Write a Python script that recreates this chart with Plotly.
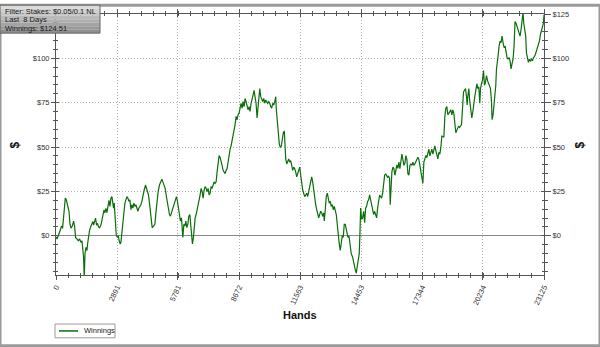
import plotly.graph_objects as go

# ---------------- data ----------------
hands_a = [0, 47, 109, 204, 265, 312, 360, 393, 440, 488, 521, 549, 615, 663, 710, 771, 833, 880, 928, 994]
win_a = [-0.5, -1.8, 0, 2.8, 5.5, 4.2, 10, 17.5, 21.2, 20.3, 18.4, 17.5, 13.8, 6.5, 4.3, 5.5, 8.3, 5.5, -0.9, -1.8]

hands_b = [1055, 1117, 1183, 1231, 1278, 1306, 1339, 1373, 1420, 1467, 1496, 1543, 1590, 1657, 1704, 1751, 1780, 1827, 1874, 1922]
win_b = [-2.8, -1.8, -3.7, -2.8, -8.3, -12, -24, -10.1, -6.5, -8.3, -4.6, -0.9, 3.1, 5.5, 6.5, 8, 6, 9, 10, 6]

hands_c = [1969, 2016, 2064, 2130, 2177, 2225, 2272, 2319, 2367, 2414, 2461, 2508, 2556, 2603, 2650, 2698, 2726, 2759, 2807, 2854]
win_c = [7, 5, 4.5, 6, 8.5, 11, 14.5, 13, 15.5, 13, 17.5, 20, 16.5, 21.2, 22.1, 18.4, 15.6, 18.4, 6.5, 0.6]

hands_d = [2901, 2949, 2996, 3043, 3076, 3124, 3171, 3218, 3266, 3313, 3360, 3408, 3455, 3502, 3550, 3597, 3644, 3692, 3739, 3786]
win_d = [-0.9, 0, -2.8, -4.6, -3.7, 0.9, 6.5, 12.9, 18.4, 21.2, 22.1, 21.2, 19.4, 20.3, 14.7, 17.5, 15.6, 18.4, 16.6, 17.5]

hands_e = [3834, 3881, 3928, 3976, 4023, 4070, 4118, 4179, 4241, 4288, 4335, 4383, 4430, 4463, 4510, 4558, 4619, 4686, 4733, 4780]
win_e = [15.6, 13.8, 15.6, 16.6, 17.5, 19.4, 23, 25.8, 28.6, 26.7, 24.9, 23, 18.4, 14.7, 6.5, 4.6, 5.5, 6.5, 12.9, 19.4]

hands_f = [4842, 4903, 4970, 5017, 5064, 5126, 5173, 5220, 5282, 5329, 5377, 5424, 5471, 5519, 5566, 5613, 5661, 5708, 5755, 5803]
win_f = [24.9, 28.6, 30.4, 31.9, 30.4, 28.6, 26.7, 23, 17.5, 14.7, 12, 11.1, 12.9, 15.6, 17.5, 19.4, 21.2, 22.1, 19.4, 16.6]

hands_g = [5850, 5897, 5945, 5978, 6011, 6058, 6106, 6153, 6200, 6248, 6295, 6342, 6371, 6418, 6465, 6513, 6546, 6593, 6640, 6688]
win_g = [12, 8.3, 10.1, 4.6, -0.9, 6.5, 5.5, 8.3, 4.6, 6.5, 11.1, 12, 7.4, 0.9, -4.6, -0.9, 6.5, 10.1, 12, 15.6]

hands_h = [6735, 6782, 6830, 6877, 6924, 6972, 7019, 7066, 7114, 7161, 7208, 7256, 7303, 7350, 7398, 7445, 7492, 7540, 7587, 7634]
win_h = [17.5, 20.3, 23, 26.7, 24.9, 21.2, 25.8, 27.7, 26.7, 24.9, 26.7, 23, 24, 27.7, 26.7, 29.5, 30.4, 29.5, 30.4, 36]

hands_i = [7682, 7729, 7776, 7824, 7871, 7918, 7966, 8013, 8060, 8108, 8155, 8202, 8250, 8297, 8344, 8392, 8439, 8486, 8534, 8581]
win_i = [41.5, 45.2, 44.2, 42.4, 39.7, 36.9, 35.6, 35, 36.9, 37.8, 41.5, 46, 48.8, 50.7, 53.5, 56.2, 59, 62.7, 67.3, 65.4]

hands_j = [8628, 8676, 8723, 8770, 8818, 8865, 8912, 8960, 9007, 9054, 9102, 9149, 9196, 9244, 9291, 9338, 9386, 9433, 9480, 9528]
win_j = [68.2, 69.1, 71.9, 74.7, 71.9, 75.6, 72.8, 77.4, 75.6, 73.7, 71, 72.8, 70.1, 74.7, 76.5, 79.3, 82, 77.4, 74.7, 66.4]

hands_k = [9561, 9608, 9655, 9703, 9750, 9797, 9845, 9892, 9939, 9987, 10034, 10081, 10129, 10176, 10223, 10271, 10318, 10365, 10413, 10441]
win_k = [70.1, 78.4, 83, 78.4, 76.5, 75.6, 77.4, 74.7, 76.5, 75.6, 74.7, 75.6, 74.7, 72.8, 71.9, 74.7, 73.7, 75.6, 78.4, 71]

hands_l = [10474, 10507, 10536, 10583, 10630, 10678, 10725, 10772, 10820, 10853, 10886, 10933, 10981, 11028, 11075, 11123, 11170, 11217, 11265, 11312, 11359]
win_l = [65.4, 59.9, 55.3, 51.6, 49.8, 50.7, 54.4, 58.1, 59, 49.8, 43.3, 40.5, 42.4, 43.3, 41.5, 42.4, 39.7, 36.9, 38.7, 37.8, 36]

hands_m = [11407, 11454, 11501, 11549, 11596, 11643, 11691, 11738, 11785, 11833, 11880, 11927, 11975, 12022, 12069, 12117, 12164, 12211, 12258, 12306]
win_m = [33.2, 35, 37.8, 38.7, 34.1, 28.6, 25.8, 24, 22.1, 23, 24, 22.1, 24.9, 28.6, 31.4, 33.2, 30.4, 24.9, 20.3, 17.5]

hands_n = [12353, 12400, 12448, 12495, 12542, 12590, 12637, 12684, 12713, 12760, 12807, 12855, 12902, 12949, 12997, 13044, 13091, 13139, 13186, 13233, 13281]
win_n = [14.7, 12.9, 10.1, 12, 13.8, 12.9, 11, 12.9, 8.3, 14.7, 22.1, 24, 21.2, 18.4, 19.4, 16.6, 17.5, 14.7, 16.6, 13.8, 12]

hands_o = [13328, 13375, 13423, 13470, 13517, 13565, 13612, 13659, 13707, 13773, 13835, 13882, 13929, 13991, 14057, 14119, 14166, 14227]
win_o = [6.5, -0.9, -4.6, -8.3, -2.8, 0, -0.9, 6.5, 6.5, 2.8, -0.9, 0, -5.5, -10.1, -12, -16.6, -18.4, -21]

hands_p = [14275, 14322, 14369, 14402, 14436, 14483, 14530, 14578, 14625, 14672, 14720, 14767, 14814, 14862, 14909, 14956, 15004, 15051, 15098, 15146, 15193]
win_p = [-17.5, -12.9, -10.1, 0.9, 15.6, 9.2, 10.1, 13.8, 7.4, 15.6, 16.6, 19.4, 20.3, 23, 20.3, 17.5, 14.7, 12, 13.8, 11.1, 10.1]

hands_q = [15240, 15288, 15335, 15382, 15430, 15477, 15524, 15572, 15619, 15666, 15714, 15761, 15808, 15837, 15870, 15917, 15965, 16012, 16059, 16107, 16154, 16201, 16249]
win_q = [15.6, 19.4, 23, 22.1, 21.2, 24, 30.4, 34, 35, 34, 33, 33.5, 32.3, 17.5, 30.4, 36, 38.7, 37.8, 34.1, 37, 40, 38, 41.5]

hands_r = [16296, 16344, 16391, 16438, 16486, 16533, 16580, 16628, 16675, 16722, 16770, 16817, 16864, 16912, 16959, 17006, 17054, 17101, 17148, 17196]
win_r = [37.8, 42, 46, 43, 39.7, 41, 45.2, 43, 35, 34.1, 39.7, 40.5, 39.7, 41.5, 39.7, 40.5, 41.5, 43.3, 44.2, 43]

hands_s = [17243, 17290, 17338, 17385, 17432, 17480, 17527, 17574, 17622, 17669, 17716, 17764, 17811, 17858, 17906, 17953, 18000, 18048, 18095, 18142]
win_s = [39.7, 34.1, 32.3, 29.5, 41.5, 44.2, 45.2, 44, 46, 48.8, 45, 47, 48.8, 46, 48, 50.7, 48, 45.2, 43.3, 47]

hands_t = [18190, 18237, 18284, 18332, 18379, 18426, 18474, 18521, 18568, 18616, 18663, 18710, 18758, 18805, 18852, 18900, 18947, 18980, 19028, 19075, 19122]
win_t = [46, 49.8, 56.2, 56, 55.5, 67.3, 71.9, 72.8, 68.2, 69, 70, 71, 68.2, 71, 69, 60.8, 58.1, 59, 60, 61.8, 61]

hands_u = [19170, 19217, 19264, 19312, 19359, 19406, 19454, 19482, 19515, 19562, 19610, 19657, 19704, 19752, 19799, 19846, 19894, 19941, 19988, 20036, 20083]
win_u = [61.8, 62.7, 71.9, 81.1, 82, 83, 78.4, 73.7, 78.4, 83, 75.6, 68.2, 66.4, 69.9, 75.6, 78.4, 82, 85.7, 83, 84, 74.7]

hands_v = [20116, 20163, 20210, 20258, 20305, 20352, 20400, 20447, 20494, 20542, 20589, 20636, 20665, 20712, 20759, 20807, 20840, 20873, 20901, 20949, 20996]
win_v = [83, 85.7, 87.6, 93.1, 84.8, 86.6, 90.3, 87.6, 85.7, 83.9, 83, 75.6, 65.4, 68.2, 74.7, 78.4, 84.8, 94, 98.6, 101.4, 106.9]

hands_w = [21043, 21091, 21138, 21185, 21233, 21280, 21327, 21375, 21422, 21469, 21517, 21564, 21611, 21659, 21706, 21753, 21801, 21848, 21895, 21943]
win_w = [109.7, 108.8, 112.5, 108.8, 106, 106.9, 102.3, 100.5, 99.5, 100.5, 98.6, 94, 97, 99.5, 106.9, 120.7, 119.8, 118, 116.2, 114.3]

hands_x = [21990, 22037, 22085, 22132, 22165, 22212, 22259, 22292, 22340, 22387, 22434, 22482, 22529, 22576, 22624, 22671, 22718, 22766, 22813, 22860, 22908, 22955, 23002, 23050, 23097, 23125]
win_x = [112.5, 116.2, 119.8, 126, 119.8, 117, 112.5, 103.2, 100.5, 97.7, 99.5, 98.6, 99.5, 98.6, 100.5, 101, 102.3, 104.1, 106, 106.9, 109.7, 113.4, 116.2, 118, 119.8, 124.51]

hand_chunks = [hands_a, hands_b, hands_c, hands_d, hands_e, hands_f, hands_g, hands_h, hands_i, hands_j, hands_k,
               hands_l, hands_m, hands_n, hands_o, hands_p, hands_q, hands_r, hands_s, hands_t, hands_u, hands_v,
               hands_w, hands_x]
win_chunks = [win_a, win_b, win_c, win_d, win_e, win_f, win_g, win_h, win_i, win_j, win_k,
              win_l, win_m, win_n, win_o, win_p, win_q, win_r, win_s, win_t, win_u, win_v,
              win_w, win_x]
hands = [h for c in hand_chunks for h in c]
winnings = [w for c in win_chunks for w in c]

x_ticks = [0, 2891, 5781, 8672, 11563, 14453, 17344, 20234, 23125]
x_labels = ["0", "2891", "5781", "8672", "11563", "14453", "17344", "20234", "23125"]
y_ticks = [0, 25, 50, 75, 100, 125]
y_labels = ["$0", "$25", "$50", "$75", "$100", "$125"]
# the left "$125" label is hidden under the stats box in the reference
y_labels_left = ["$0", "$25", "$50", "$75", "$100", ""]
x_range = [0, 23125]
y_range = [-22.1, 125]

stats_lines = ["Filter: Stakes: $0.05/0.1 NL", "Last  8 Days", "Winnings: $124.51"]
series_name = "Winnings"

# ---------------- styling ----------------
W, H = 600, 347
ML, MR, MT, MB = 56, 56, 9, 72
PW, PH = W - ML - MR, H - MT - MB
FONT = "Liberation Sans, Arial, sans-serif"
AX = "#555555"
GRID = "#b4b4b4"
GRID_DASH = "1px,2px"
GREEN = "#0a6e0a"
TXT = "#333333"


def fx(px):
    return (px - ML) / PW


def fy(py):
    return (H - MB - py) / PH


x_minor = [i * x_range[1] / 40 for i in range(41)]

fig = go.Figure()
fig.add_trace(go.Scatter(x=hands, y=winnings, mode="lines", name=series_name,
                         line=dict(color=GREEN, width=1.2), showlegend=False, hoverinfo="skip"))
fig.add_trace(go.Scatter(x=[None], y=[None], xaxis="x", yaxis="y2", showlegend=False, hoverinfo="skip"))
fig.add_trace(go.Scatter(x=[None], y=[None], xaxis="x2", yaxis="y3", showlegend=False, hoverinfo="skip"))

tickfont = dict(family=FONT, size=7.5, color=TXT)

fig.update_layout(
    width=W, height=H,
    margin=dict(l=ML, r=MR, t=MT, b=MB, pad=0),
    paper_bgcolor="white", plot_bgcolor="white",
    showlegend=False,
    xaxis=dict(range=x_range, tickmode="array", tickvals=x_ticks, ticktext=x_labels, tickangle=-65,
               ticks="outside", ticklen=4, tickwidth=1, tickcolor=AX,
               showline=True, linecolor=AX, linewidth=1, mirror="ticks",
               showgrid=True, gridcolor=GRID, griddash=GRID_DASH, gridwidth=1, zeroline=False,
               tickfont=tickfont,
               minor=dict(tickmode="array", tickvals=x_minor, ticks="outside", ticklen=2,
                          tickcolor=AX, showgrid=False)),
    xaxis2=dict(range=x_range, overlaying="x", anchor="y", tickmode="array", tickvals=x_ticks,
                showticklabels=False, ticks="inside", ticklen=3, tickcolor=AX,
                showline=True, linecolor=AX, mirror="ticks", showgrid=False, zeroline=False,
                minor=dict(tickmode="array", tickvals=x_minor, ticks="inside", ticklen=2,
                           tickcolor=AX, showgrid=False)),
    yaxis=dict(range=y_range, tickmode="array", tickvals=y_ticks, ticktext=y_labels_left,
               ticks="outside", ticklen=4, tickwidth=1, tickcolor=AX,
               showline=True, linecolor=AX, linewidth=1, mirror=True,
               showgrid=True, gridcolor=GRID, griddash=GRID_DASH, gridwidth=1,
               zeroline=True, zerolinecolor="#8a8a8a", zerolinewidth=1,
               tickfont=tickfont,
               minor=dict(tickmode="linear", tick0=0, dtick=5, ticks="outside", ticklen=2,
                          tickcolor=AX, showgrid=False)),
    yaxis2=dict(range=y_range, overlaying="y", side="right", anchor="x", tickmode="array",
                tickvals=y_ticks, ticktext=y_labels, ticks="outside", ticklen=6, tickcolor=AX,
                showline=False, showgrid=False, zeroline=False, tickfont=tickfont,
                minor=dict(tickmode="linear", tick0=0, dtick=5, ticks="outside", ticklen=2.5,
                           tickcolor=AX, showgrid=False)),
    yaxis3=dict(range=y_range, overlaying="y", anchor="x", tickmode="array", tickvals=y_ticks,
                showticklabels=False, ticks="inside", ticklen=3, tickcolor=AX,
                showline=True, linecolor=AX, mirror="ticks", showgrid=False, zeroline=False,
                minor=dict(tickmode="linear", tick0=0, dtick=5, ticks="inside", ticklen=2,
                           tickcolor=AX, showgrid=False)),
)

shapes = []
# outer frame
shapes.append(dict(type="rect", xref="paper", yref="paper", x0=fx(0), x1=fx(W), y0=fy(H), y1=fy(0),
                   line=dict(color="#9a9a9a", width=3), fillcolor="rgba(0,0,0,0)", layer="above"))
# stats box with a vertical gradient made of strips
box_x0, box_x1, box_y0, box_y1 = 0, 100, 0, 28.5
greys = ["#dadada", "#d0d0d0", "#c5c5c5", "#bababa", "#afafaf", "#a4a4a4", "#999999", "#8f8f8f"]
n = len(greys)
for i, g in enumerate(greys):
    t0 = box_y0 + (box_y1 - box_y0) * i / n
    t1 = box_y0 + (box_y1 - box_y0) * (i + 1) / n
    shapes.append(dict(type="rect", xref="paper", yref="paper", x0=fx(box_x0), x1=fx(box_x1),
                       y0=fy(t1), y1=fy(t0), line=dict(width=0), fillcolor=g, layer="above"))
shapes.append(dict(type="rect", xref="paper", yref="paper", x0=fx(box_x0), x1=fx(box_x1),
                   y0=fy(box_y1), y1=fy(box_y0), line=dict(color="#666666", width=1),
                   fillcolor="rgba(0,0,0,0)", layer="above"))
# legend box
shapes.append(dict(type="rect", xref="paper", yref="paper", x0=fx(55), x1=fx(115), y0=fy(339), y1=fy(325),
                   line=dict(color="#9a9a9a", width=1), fillcolor="white", layer="above"))
shapes.append(dict(type="line", xref="paper", yref="paper", x0=fx(59), x1=fx(78), y0=fy(332), y1=fy(332),
                   line=dict(color=GREEN, width=1.5), layer="above"))

annotations = []
for i, line in enumerate(stats_lines):
    annotations.append(dict(text=line, xref="paper", yref="paper", x=fx(3), y=fy(6.5 + 8.4 * i),
                            xanchor="left", yanchor="middle", showarrow=False,
                            font=dict(family=FONT, size=7.5, color="#1a1a1a")))
annotations.append(dict(text=series_name, xref="paper", yref="paper", x=fx(82), y=fy(332),
                        xanchor="left", yanchor="middle", showarrow=False,
                        font=dict(family=FONT, size=7.5, color="#1a1a1a")))
annotations.append(dict(text="<b>Hands</b>", xref="paper", yref="paper", x=fx(300), y=fy(316),
                        xanchor="center", yanchor="middle", showarrow=False,
                        font=dict(family=FONT, size=11, color="#111111")))
for xpos in (15, 580):
    annotations.append(dict(text="<b>$</b>", xref="paper", yref="paper", x=fx(xpos), y=fy(143),
                            xanchor="center", yanchor="middle", showarrow=False, textangle=-90,
                            font=dict(family=FONT, size=12, color="#111111")))

fig.update_layout(shapes=shapes, annotations=annotations)
fig.write_html("out.html",
               config={"displayModeBar": False, "staticPlot": True},
               post_script="document.body.style.margin='0';document.body.style.overflow='hidden';")
